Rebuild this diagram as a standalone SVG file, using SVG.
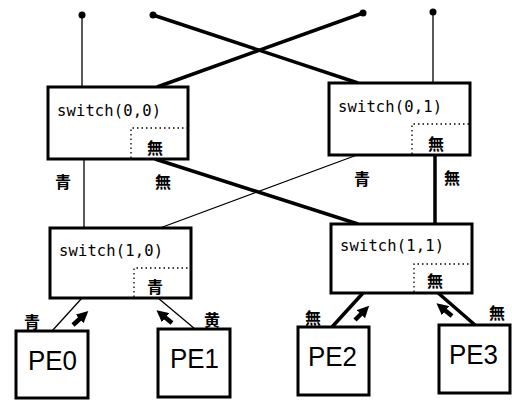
<svg xmlns="http://www.w3.org/2000/svg" width="512" height="400" viewBox="0 0 512 400">
<defs>
<style>
.box{fill:#fff;stroke:#000;stroke-width:3}
.dot{fill:none;stroke:#000;stroke-width:1.3;stroke-dasharray:1.5 3}
.thin{stroke:#000;stroke-width:1.3;fill:none}
.thick{stroke:#000;stroke-width:3.5;fill:none}
.sw{font-family:"DejaVu Sans Mono",monospace;font-size:15.5px;fill:#000}
.pe{font-family:"Liberation Sans",sans-serif;font-size:27px;fill:#000}
.cj{font-family:"Noto Sans CJK JP","Noto Sans CJK SC",sans-serif;font-size:16px;font-weight:bold;fill:#000;text-anchor:middle}
.arr{stroke:#000;stroke-width:4.5;fill:none}
</style>
<marker id="ah" viewBox="0 0 10 10" refX="5" refY="5" markerWidth="2.6" markerHeight="2.6" orient="auto">
<path d="M0,0 L10,5 L0,10 z" fill="#000"/>
</marker>
</defs>
<rect width="512" height="400" fill="#fff"/>
<g id="connectors">
<circle cx="82" cy="15" r="3.5"/>
<circle cx="153" cy="15" r="3.5"/>
<circle cx="363" cy="13" r="3.5"/>
<circle cx="433" cy="12" r="3.5"/>
<line class="thin" x1="82" y1="15" x2="82" y2="87"/>
<line class="thick" x1="153" y1="15" x2="358" y2="83"/>
<line class="thick" x1="363" y1="13" x2="157" y2="87"/>
<line class="thin" x1="433" y1="12" x2="433" y2="83"/>
<line class="thin" x1="84" y1="159" x2="84" y2="228"/>
<line class="thick" x1="155" y1="159" x2="358" y2="224"/>
<line class="thin" x1="357" y1="155" x2="160" y2="228"/>
<line class="thick" x1="435" y1="155" x2="435" y2="224"/>
<line class="thin" x1="82" y1="298" x2="52" y2="331"/>
<line class="thin" x1="158" y1="298" x2="195" y2="329"/>
<line class="thick" x1="363" y1="293" x2="332" y2="327"/>
<line class="thick" x1="437" y1="292" x2="475" y2="325"/>
<line class="arr" x1="73" y1="325" x2="84" y2="315" marker-end="url(#ah)"/>
<line class="arr" x1="172" y1="323" x2="161" y2="314" marker-end="url(#ah)"/>
<line class="arr" x1="355" y1="320" x2="365" y2="310" marker-end="url(#ah)"/>
<line class="arr" x1="452" y1="316" x2="441" y2="307" marker-end="url(#ah)"/>
<text class="cj" x="63" y="188">青</text>
<text class="cj" x="163" y="188">無</text>
<text class="cj" x="362" y="185">青</text>
<text class="cj" x="452" y="184">無</text>
<text class="cj" x="32" y="328">青</text>
<text class="cj" x="212" y="326">黄</text>
<text class="cj" x="313" y="324">無</text>
<text class="cj" x="497" y="319">無</text>
</g>
<g id="switch00">
<rect class="box" x="48" y="87" width="140" height="72"/>
<text class="sw" x="57" y="116" textLength="104">switch(0,0)</text>
<path class="dot" d="M131,158 V128 H187"/>
<text class="cj" x="155" y="154">無</text>
</g>
<g id="switch01">
<rect class="box" x="329" y="83" width="141" height="72"/>
<text class="sw" x="338" y="112" textLength="104">switch(0,1)</text>
<path class="dot" d="M412,154 V124 H469"/>
<text class="cj" x="436" y="150">無</text>
</g>
<g id="switch10">
<rect class="box" x="50" y="228" width="141" height="70"/>
<text class="sw" x="59" y="256" textLength="104">switch(1,0)</text>
<path class="dot" d="M134,297 V268 H190"/>
<text class="cj" x="155" y="293">青</text>
</g>
<g id="switch11">
<rect class="box" x="331" y="224" width="141" height="69"/>
<text class="sw" x="340" y="251" textLength="104">switch(1,1)</text>
<path class="dot" d="M414,292 V264 H471"/>
<text class="cj" x="435" y="287">無</text>
</g>
<g id="pe0">
<rect class="box" x="16" y="331" width="72" height="67"/>
<text class="pe" x="28" y="370" textLength="49" lengthAdjust="spacingAndGlyphs">PE0</text>
</g>
<g id="pe1">
<rect class="box" x="158" y="329" width="72" height="68"/>
<text class="pe" x="170" y="368" textLength="49" lengthAdjust="spacingAndGlyphs">PE1</text>
</g>
<g id="pe2">
<rect class="box" x="298" y="327" width="71" height="68"/>
<text class="pe" x="308" y="366" textLength="49" lengthAdjust="spacingAndGlyphs">PE2</text>
</g>
<g id="pe3">
<rect class="box" x="439" y="325" width="71" height="68"/>
<text class="pe" x="449" y="364" textLength="49" lengthAdjust="spacingAndGlyphs">PE3</text>
</g>
</svg>
